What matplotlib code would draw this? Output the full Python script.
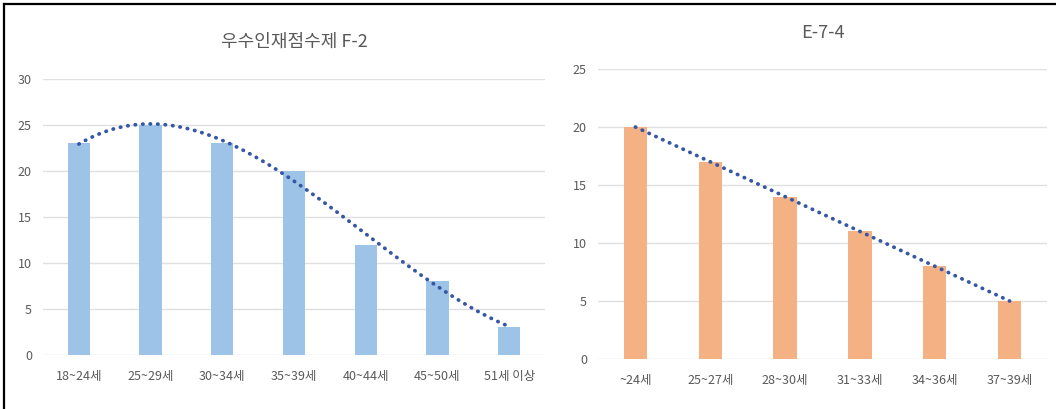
import numpy as np
import matplotlib.pyplot as plt
from matplotlib.lines import Line2D

plt.rcParams['font.family'] = ['Noto Sans CJK KR', 'DejaVu Sans']

# F-2 points-based visa, by age band
f2_labels = ['18~24세', '25~29세', '30~34세', '35~39세', '40~44세', '45~50세', '51세 이상']
f2_values = [23, 25, 23, 20, 12, 8, 3]

# E-7-4, by age band
e74_labels = ['~24세', '25~27세', '28~30세', '31~33세', '34~36세', '37~39세']
e74_values = [20, 17, 14, 11, 8, 5]

text_gray = '#595959'
grid_gray = '#E0E0E0'
trend_blue = '#3557A5'

fig = plt.figure(figsize=(10.56, 4.09), dpi=100)
ax1 = fig.add_axes([43 / 1056, 54 / 409, 502 / 1056, 276 / 409])
ax2 = fig.add_axes([598 / 1056, 50 / 409, 449 / 1056, 290 / 409])


def draw_panel(ax, labels, values, color, ymax, deg, title, title_y):
    x = np.arange(len(values))
    ax.bar(x, values, width=0.31, color=color, zorder=2)

    # trendline fitted on the bar values
    coef = np.polyfit(x, values, deg)
    xs = np.linspace(0, len(values) - 1, 200)
    ax.plot(xs, np.polyval(coef, xs), color=trend_blue, linewidth=2.7,
            linestyle=(0, (0.1, 1.9)), dash_capstyle='round', zorder=3)

    ax.set_xlim(-0.5, len(values) - 0.5)
    ax.set_ylim(0, ymax)
    ax.set_yticks(range(0, ymax + 1, 5))
    ax.set_xticks(x)
    ax.set_xticklabels(labels)
    ax.grid(axis='y', color=grid_gray, linewidth=1, zorder=0)
    ax.set_axisbelow(True)
    for s in ax.spines.values():
        s.set_visible(False)
    ax.tick_params(axis='both', length=0, colors=text_gray, labelsize=9)
    ax.tick_params(axis='x', pad=11)
    ax.tick_params(axis='y', pad=8)
    fig.text(ax.get_position().x0 + ax.get_position().width / 2, title_y, title,
             ha='center', va='center', fontsize=13, color=text_gray)


draw_panel(ax1, f2_labels, f2_values, '#9DC3E6', 30, 3,
           '우수인재점수제 F-2', 1 - 42 / 409)
draw_panel(ax2, e74_labels, e74_values, '#F4B183', 25, 1,
           'E-7-4', 1 - 33 / 409)

# outer frame on top and left edges
fig.add_artist(Line2D([4 / 1056, 1], [1 - 4 / 409, 1 - 4 / 409],
                      color='black', linewidth=1.6, transform=fig.transFigure))
fig.add_artist(Line2D([4 / 1056, 4 / 1056], [0, 1 - 4 / 409],
                      color='black', linewidth=1.6, transform=fig.transFigure))

fig.savefig('out.png', dpi=100)
